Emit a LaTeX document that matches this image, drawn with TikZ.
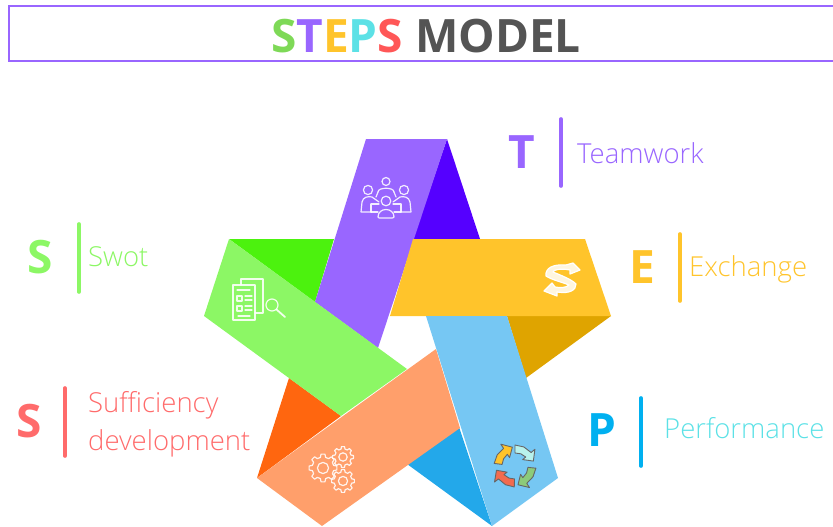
\documentclass[tikz,border=0pt]{standalone}
\usepackage{fontspec}
\setmainfont{Open Sans}
\newfontfamily\lightf{Open Sans Light}
\usetikzlibrary{calc}
\definecolor{cPurple}{HTML}{9966FF}
\definecolor{cPurpleD}{HTML}{5500FF}
\definecolor{cYellow}{HTML}{FFC42B}
\definecolor{cYellowD}{HTML}{DFA400}
\definecolor{cBlue}{HTML}{76C7F3}
\definecolor{cBlueD}{HTML}{23A8EA}
\definecolor{cOrange}{HTML}{FF9F6B}
\definecolor{cOrangeD}{HTML}{FF660F}
\definecolor{cGreen}{HTML}{8CF765}
\definecolor{cGreenD}{HTML}{4CF20E}
\definecolor{cRed}{HTML}{FF6B6B}
\definecolor{cCyan}{HTML}{5CE1E6}
\definecolor{cTitleGreen}{HTML}{7ED957}
\definecolor{cTitleRed}{HTML}{FF5757}
\definecolor{cGrey}{HTML}{545454}
\definecolor{cLetterBlue}{HTML}{00B0F0}
\definecolor{cArrowCyan}{HTML}{B8F2EC}
\definecolor{cArrowGreen}{HTML}{8CCB7A}
\definecolor{cArrowRed}{HTML}{F26B4E}
\tikzset{
  letterlab/.style={font=\fontsize{46}{46}\selectfont\bfseries, inner sep=0pt, anchor=center},
  wordlab/.style={font=\lightf\fontsize{27.5}{27.5}\selectfont, inner sep=0pt, anchor=west},
  barline/.style={line width=3.6pt, line cap=round},
  iconline/.style={draw=white, line width=1.2pt, line join=round, line cap=round, opacity=.88},
  cyclearrow/.style={draw=black!60, line width=.9pt, line join=round}
}
\newcommand\gearicon[3]{%
  \begin{scope}[shift={(#1,#2)}]
    \draw[iconline] (-14:#3*.78)
      \foreach \a in {0,45,...,315} { -- (\a-14:#3*.78) -- (\a-8:#3) -- (\a+8:#3) -- (\a+14:#3*.78) } -- cycle;
    \draw[iconline] (0,0) circle ({#3*.4});
  \end{scope}}
\newcommand\cyclepiece[2]{%
  \fill[#2] (#1:13) -- (#1+25:13.5) -- (#1+50:14) -- (#1+50:10) -- (#1+75:19) -- (#1+50:26) -- (#1+50:21) -- (#1+25:21) -- (#1:21) -- cycle;
  \draw[cyclearrow] (#1:13) -- (#1+25:13.5) -- (#1+50:14) -- (#1+50:10) -- (#1+75:19) -- (#1+50:26) -- (#1+50:21) -- (#1+25:21) -- (#1:21) -- cycle;}
\begin{document}
\begin{tikzpicture}[x=1pt,y=-1pt]
\useasboundingbox (0,0) rectangle (833,527);
% title
\draw[cPurple, line width=2.8pt] (9,6) rectangle (842,61);
\node[inner sep=0pt, anchor=center, font=\fontsize{46}{46}\selectfont\bfseries] (title) at (426,36)
  {\textcolor{cTitleGreen}{S}\textcolor{cPurple}{T}\textcolor{cYellow}{E}\textcolor{cCyan}{P}\textcolor{cTitleRed}{S} \textcolor{cGrey}{MODEL}};
% dark triangles
\fill[cPurpleD] (447,139) -- (480,239) -- (413,239) -- cycle;
\fill[cYellowD] (507,316) -- (611,316) -- (526,378) -- cycle;
\fill[cBlueD] (459,427) -- (492,526) -- (407,464) -- cycle;
\fill[cOrangeD] (257,478) -- (289,378) -- (341,416) -- cycle;
\fill[cGreenD] (229,239) -- (334,239) -- (315,302) -- cycle;
% bands
\fill[cPurple] (366,139) -- (447,139) -- (378,348) -- (315,302) -- cycle;
\fill[cYellow] (413,239) -- (585,239) -- (611,316) -- (390,316) -- cycle;
\fill[cOrange] (436,349) -- (460,428) -- (322,526) -- (257,478) -- cycle;
\fill[cBlue] (426,316) -- (507,316) -- (558,478) -- (492,526) -- cycle;
\fill[cGreen] (229,239) -- (407,369) -- (341,416) -- (204,316) -- cycle;
% teamwork icon
\draw[iconline] (386,181.5) circle (4);
\draw[iconline] (368,190) circle (4.6);
\draw[iconline] (404,190) circle (4.6);
\draw[iconline] (386,201) circle (4.8);
\draw[iconline] (378,192) .. controls (378,187) and (394,187) .. (394,192);
\draw[iconline] (378,192) -- (376,197) (394,192) -- (396,197);
\draw[iconline] (371,212) -- (361,212) -- (362,202) .. controls (363,197) and (368,196) .. (372,197) -- (379,202);
\draw[iconline] (401,212) -- (411,212) -- (410,202) .. controls (409,197) and (404,196) .. (400,197) -- (393,202);
\draw[iconline] (371,212) -- (371,204) (401,212) -- (401,204) (371,204) -- (379,204) (393,204) -- (401,204);
\draw[iconline] (371,212) -- (378,212) (394,212) -- (401,212);
\draw[iconline] (378,217) .. controls (378,207) and (394,207) .. (394,217) .. controls (394,218) and (392,218) .. (391,218) -- (381,218) .. controls (379,218) and (378,218) .. (378,217) -- cycle;
% swot icon
\draw[iconline] (241,285) -- (241,279) -- (263,279) -- (263,313) -- (255,313);
\draw[iconline] (233,285) -- (255,285) -- (255,320) -- (233,320) -- cycle;
\draw[iconline] (237,296) rectangle (242,301);
\draw[iconline] (237,306) rectangle (242,311);
\draw[iconline] (245,296) -- (252,296) (245,300) -- (252,300) (245,306) -- (252,306) (245,310) -- (252,310) (237,290) -- (250,290) (238,316) -- (250,316);
\draw[iconline] (272,305) circle (6);
\draw[iconline, line width=1.8pt] (276.5,309.5) -- (285,317);
% exchange icon
\draw[white, line width=1.2pt, fill=white!85!cYellow, line join=round]
  (546,276) .. controls (545,268) and (553,264) .. (566,265) -- (573,263) -- (580,270) -- (570,274) -- (570,270)
  .. controls (560,268) and (553,270) .. (553,272) .. controls (560,275) and (571,279) .. (576,284)
  .. controls (576,290) and (570,294) .. (557,292) -- (557,296) -- (544,291) -- (552,283) -- (555,287)
  .. controls (560,288) and (566,288) .. (569,285) .. controls (562,282) and (552,280) .. (546,276) -- cycle;
% cycle icon
\begin{scope}[shift={(515,466)}]
  \cyclepiece{187}{cYellow}
  \cyclepiece{270}{cArrowCyan}
  \cyclepiece{6}{cArrowGreen}
  \cyclepiece{92}{cArrowRed}
\end{scope}
% gears
\gearicon{323}{468}{14}
\gearicon{343}{457}{10.5}
\gearicon{343}{481}{11.5}
% labels
\node[letterlab, text=cPurple] (lT) at (522,152) {T};
\coordinate (bT1) at (561,119); \coordinate (bT2) at (561,186);
\draw[barline, cPurple] (bT1) -- (bT2);
\node[wordlab, text=cPurple] (wT) at (577,153) {Teamwork};

\node[letterlab, text=cYellow] (lE) at (642,267) {E};
\coordinate (bE1) at (680,234); \coordinate (bE2) at (680,301);
\draw[barline, cYellow] (bE1) -- (bE2);
\node[wordlab, text=cYellow] (wE) at (689,269) {Exchange};

\node[letterlab, text=cLetterBlue] (lP) at (602,430) {P};
\coordinate (bP1) at (641,398); \coordinate (bP2) at (641,466);
\draw[barline, cLetterBlue] (bP1) -- (bP2);
\node[wordlab, text=cCyan] (wP) at (664,428) {Performance};

\node[letterlab, text=cGreen] (lS) at (40,257) {S};
\coordinate (bS1) at (79,224); \coordinate (bS2) at (79,292);
\draw[barline, cGreen] (bS1) -- (bS2);
\node[wordlab, text=cGreen] (wS) at (88,257) {Swot};

\node[letterlab, text=cRed] (lD) at (29,421) {S};
\coordinate (bD1) at (65,388); \coordinate (bD2) at (65,456);
\draw[barline, cRed] (bD1) -- (bD2);
\node[wordlab, text=cRed] (wD1) at (88,405) {Sufficiency};
\node[wordlab, text=cRed] (wD2) at (88,443) {development};
\end{tikzpicture}
\end{document}
